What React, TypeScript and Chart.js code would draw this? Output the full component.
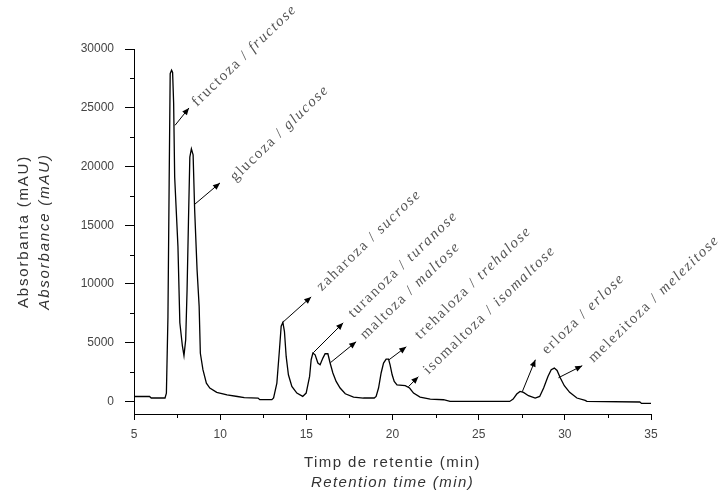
import { useEffect, useRef } from 'react';
import { Chart, registerables } from 'chart.js';

Chart.register(...registerables);

// Retention time (min)
const retentionTime = [
  5.0, 5.9, 6.0, 6.8, 6.88, 6.97, 7.04, 7.1, 7.18, 7.24, 7.3, 7.36, 7.55, 7.66, 7.81, 7.9,
  8.0, 8.08, 8.16, 8.24, 8.33, 8.43, 8.52, 8.66, 8.78, 8.85, 9.0, 9.2, 9.4, 9.8, 10.4, 11.0,
  11.4, 12.2, 12.3, 13.0, 13.1, 13.29, 13.44, 13.54, 13.64, 13.73, 13.83, 13.96, 14.16, 14.45,
  14.79, 14.99, 15.19, 15.28, 15.38, 15.51, 15.67, 15.8, 15.96, 16.09, 16.25, 16.38, 16.54,
  16.73, 16.96, 17.26, 17.74, 18.31, 18.94, 19.05, 19.19, 19.34, 19.48, 19.63, 19.77, 19.86,
  19.98, 20.1, 20.26, 20.74, 20.99, 21.22, 21.6, 22.19, 22.96, 23.34, 26.8, 27.0, 27.21, 27.4,
  27.6, 27.89, 28.28, 28.54, 28.77, 29.02, 29.21, 29.39, 29.55, 29.74, 29.97, 30.28, 30.7,
  31.18, 31.28, 34.35, 34.45, 35.0,
];

// Absorbance (mAU)
const absorbance = [
  420, 420, 290, 290, 700, 7200, 18600, 27900, 28200, 28000, 25400, 19100, 13200, 6700, 4700, 3900,
  5250, 9500, 15300, 20800, 21500, 21000, 16300, 11200, 8100, 4100, 2700, 1560, 1140, 770, 560, 420,
  330, 290, 150, 150, 300, 1560, 4400, 6400, 6720, 5950, 3830, 2270, 1280, 710,
  425, 710, 2130, 3550, 4120, 3970, 3270, 3120, 3690, 4060, 4060, 3270, 2420,
  1700, 1140, 650, 370, 290, 290, 425, 1140, 2420, 3270, 3600, 3600, 3120,
  2270, 1700, 1400, 1340, 1140, 710, 370, 200, 145, 0, 0, 200, 630, 850,
  770, 485, 290, 425, 1140, 2130, 2700, 2840, 2640, 1990, 1340, 770, 290,
  85, 0, -50, -170, -170,
];

// Peak labels (Romanian / English)
const peakNamesRo = [
  'fructoza', 'glucoza', 'zaharoza', 'turanoza', 'maltoza',
  'trehaloza', 'isomaltoza', 'erloza', 'melezitoza',
];
const peakNamesEn = [
  'fructose', 'glucose', 'sucrose', 'turanose', 'maltose',
  'trehalose', 'isomaltose', 'erlose', 'melezitose',
];

// Arrow start (on the peak) and end, label anchor, in data units (min, mAU)
const arrowFromTime = [7.38, 8.48, 13.6, 15.4, 16.39, 19.8, 20.92, 27.53, 29.63];
const arrowFromAbs = [23500, 16730, 6690, 4140, 3290, 3550, 1250, 825, 2015];
const arrowToTime = [8.19, 9.99, 15.28, 17.14, 17.89, 20.8, 21.5, 28.29, 31.01];
const arrowToAbs = [24980, 18600, 8900, 6690, 5080, 4650, 2100, 3550, 3040];
const labelTime = [8.66, 10.87, 15.9, 17.73, 18.42, 21.6, 22.09, 28.96, 31.66];
const labelAbs = [25070, 18690, 9360, 7090, 5250, 5250, 2270, 3970, 3270];

const yTickValues = [0, 5000, 10000, 15000, 20000, 25000, 30000];
const xMinorTicks = [7.5, 12.5, 17.5, 22.5, 27.5, 32.5];
const yMinorTicks = [2500, 7500, 12500, 17500, 22500, 27500];

const xTitleRo = 'Timp de retentie (min)';
const xTitleEn = 'Retention time (min)';
const yTitleRo = 'Absorbanta (mAU)';
const yTitleEn = 'Absorbance (mAU)';

const minorTickPlugin = {
  id: 'minorTicks',
  afterDraw(chart: any) {
    const { ctx, chartArea, scales } = chart;
    ctx.save();
    ctx.strokeStyle = '#000';
    ctx.lineWidth = 1;
    ctx.beginPath();
    yMinorTicks.forEach((v) => {
      const py = Math.round(scales.y.getPixelForValue(v)) + 0.5;
      ctx.moveTo(chartArea.left - 4, py);
      ctx.lineTo(chartArea.left, py);
    });
    xMinorTicks.forEach((v) => {
      const px = Math.round(scales.x.getPixelForValue(v)) + 0.5;
      ctx.moveTo(px, chartArea.bottom);
      ctx.lineTo(px, chartArea.bottom + 4);
    });
    ctx.stroke();
    ctx.restore();
  },
};

const titlePlugin = {
  id: 'axisTitles',
  afterDraw(chart: any) {
    const { ctx, chartArea } = chart;
    ctx.save();
    ctx.fillStyle = '#333';
    ctx.textAlign = 'center';
    ctx.textBaseline = 'middle';
    (ctx as any).letterSpacing = '1.4px';
    const cx = (chartArea.left + chartArea.right) / 2;
    ctx.font = '15px "Liberation Sans", Arial, sans-serif';
    ctx.fillText(xTitleRo, cx, chartArea.bottom + 49);
    ctx.font = 'italic 15px "Liberation Sans", Arial, sans-serif';
    ctx.fillText(xTitleEn, cx, chartArea.bottom + 69);

    const cy = (chartArea.top + chartArea.bottom) / 2;
    (ctx as any).letterSpacing = '1.8px';
    ctx.save();
    ctx.translate(24, cy);
    ctx.rotate(-Math.PI / 2);
    ctx.font = '15px "Liberation Sans", Arial, sans-serif';
    ctx.fillText(yTitleRo, 0, 0);
    ctx.restore();
    ctx.save();
    ctx.translate(45, cy);
    ctx.rotate(-Math.PI / 2);
    ctx.font = 'italic 15px "Liberation Sans", Arial, sans-serif';
    ctx.fillText(yTitleEn, 0, 0);
    ctx.restore();
    ctx.restore();
  },
};

const peakLabelPlugin = {
  id: 'peakLabels',
  afterDatasetsDraw(chart: any) {
    const { ctx, scales } = chart;
    const { x, y } = scales;
    ctx.save();
    for (let i = 0; i < peakNamesRo.length; i++) {
      const fx = x.getPixelForValue(arrowFromTime[i]);
      const fy = y.getPixelForValue(arrowFromAbs[i]);
      const tx = x.getPixelForValue(arrowToTime[i]);
      const ty = y.getPixelForValue(arrowToAbs[i]);
      ctx.strokeStyle = '#000';
      ctx.fillStyle = '#000';
      ctx.lineWidth = 1;
      ctx.beginPath();
      ctx.moveTo(fx, fy);
      ctx.lineTo(tx, ty);
      ctx.stroke();
      const ang = Math.atan2(ty - fy, tx - fx);
      const L = 7;
      const W = 3;
      const c = Math.cos(ang);
      const s = Math.sin(ang);
      ctx.beginPath();
      ctx.moveTo(tx, ty);
      ctx.lineTo(tx - L * c + W * s, ty - L * s - W * c);
      ctx.lineTo(tx - L * c - W * s, ty - L * s + W * c);
      ctx.closePath();
      ctx.fill();

      const lx = x.getPixelForValue(labelTime[i]);
      const ly = y.getPixelForValue(labelAbs[i]);
      ctx.save();
      ctx.translate(lx, ly);
      ctx.rotate((-44 * Math.PI) / 180);
      ctx.fillStyle = '#555';
      ctx.textAlign = 'left';
      ctx.textBaseline = 'alphabetic';
      (ctx as any).letterSpacing = '1.6px';
      ctx.font = '15px "Liberation Serif", "Times New Roman", serif';
      const part1 = peakNamesRo[i] + ' / ';
      ctx.fillText(part1, 0, 0);
      const w = ctx.measureText(part1).width;
      ctx.font = 'italic 15px "Liberation Serif", "Times New Roman", serif';
      ctx.fillText(peakNamesEn[i], w, 0);
      ctx.restore();
    }
    ctx.restore();
  },
};

export default function App() {
  const canvasRef = useRef<HTMLCanvasElement | null>(null);

  useEffect(() => {
    if (!canvasRef.current) return;
    const points = retentionTime.map((t, i) => ({ x: t, y: absorbance[i] }));
    const tickFont = { family: '"Liberation Sans", Arial, sans-serif', size: 12 };
    const chart = new Chart(canvasRef.current, {
      type: 'line',
      data: {
        datasets: [
          {
            data: points,
            borderColor: '#000',
            borderWidth: 1.3,
            pointRadius: 0,
            tension: 0,
            fill: false,
          },
        ],
      },
      options: {
        animation: false,
        responsive: false,
        devicePixelRatio: 1,
        layout: { padding: { left: 0, right: 67, top: 49, bottom: 0 } },
        plugins: { legend: { display: false }, tooltip: { enabled: false } },
        scales: {
          x: {
            type: 'linear',
            min: 5,
            max: 35,
            afterFit: (scale: any) => {
              scale.height = 79;
            },
            ticks: {
              stepSize: 5,
              color: '#444',
              font: tickFont,
              padding: 7,
              maxRotation: 0,
              callback: (v: any) => String(v),
            },
            grid: { drawOnChartArea: false, drawTicks: true, tickLength: 6, tickColor: '#000', tickWidth: 1 },
            border: { display: true, color: '#000', width: 1 },
          },
          y: {
            type: 'linear',
            min: -1070,
            max: 30000,
            afterFit: (scale: any) => {
              scale.width = 134;
            },
            afterBuildTicks: (scale: any) => {
              scale.ticks = yTickValues.map((v) => ({ value: v }));
            },
            ticks: {
              color: '#444',
              font: tickFont,
              padding: 11,
              callback: (v: any) => String(v),
            },
            grid: { drawOnChartArea: false, drawTicks: true, tickLength: 9, tickColor: '#000', tickWidth: 1 },
            border: { display: true, color: '#000', width: 1 },
          },
        },
      },
      plugins: [minorTickPlugin, titlePlugin, peakLabelPlugin],
    });
    return () => chart.destroy();
  }, []);

  return (
    <div style={{ position: 'absolute', left: 0, top: 0, width: 718, height: 493, background: '#fff' }}>
      <canvas ref={canvasRef} width={718} height={493} />
    </div>
  );
}
